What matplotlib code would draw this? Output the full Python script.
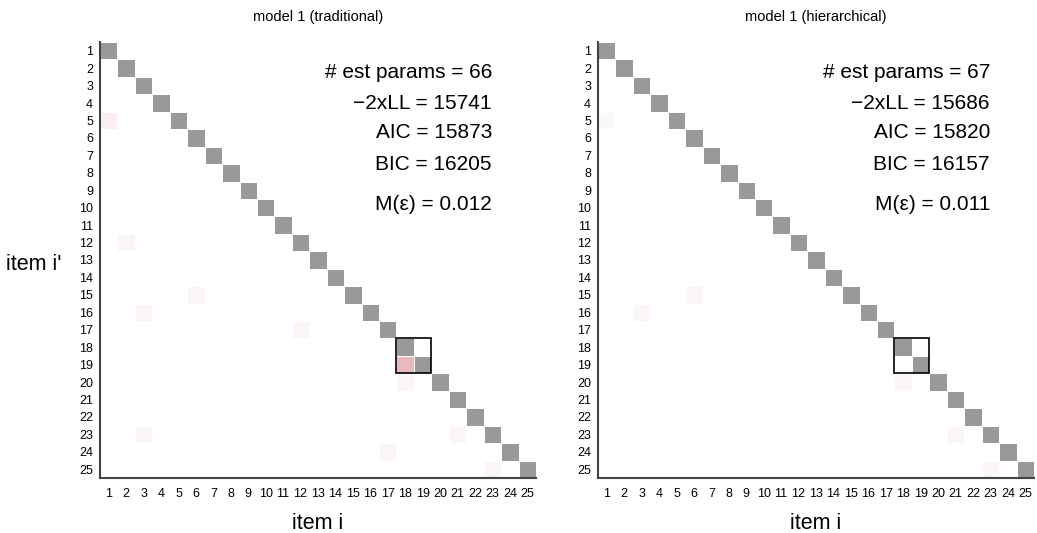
import numpy as np
import matplotlib
matplotlib.use("Agg")
import matplotlib.pyplot as plt
from matplotlib.colors import LinearSegmentedColormap
from matplotlib.patches import Rectangle

plt.rcParams['font.family'] = ['Liberation Sans', 'DejaVu Sans']

n_items = 25
items = list(range(1, n_items + 1))

titles = ["model 1 (traditional)", "model 1 (hierarchical)"]

# residual cells (item i', item i, residual) in the lower triangle
resid_trad = [(5, 1, 0.05), (12, 2, 0.035), (15, 6, 0.035), (16, 3, 0.035),
              (17, 12, 0.035), (19, 18, 0.22), (20, 18, 0.035), (23, 3, 0.035),
              (23, 21, 0.035), (24, 17, 0.035), (25, 23, 0.035)]
resid_hier = [(5, 1, 0.025), (15, 6, 0.035), (16, 3, 0.035), (20, 18, 0.03),
              (23, 21, 0.035), (25, 23, 0.035)]

# boxed item pair (first item, last item)
box_items = [(18, 19), (18, 19)]

# fit statistics
n_params = [66, 67]
m2ll = [15741, 15686]
aic = [15873, 15820]
bic = [16205, 16157]
mean_eps = [0.012, 0.011]

cmap_res = LinearSegmentedColormap.from_list("res", ["#ffffff", "#c0404e"])
cmap_diag = LinearSegmentedColormap.from_list("diag", ["#999999", "#999999"])

fig = plt.figure(figsize=(10.37, 5.33), dpi=100)
positions = [[100 / 1037, 55 / 533, 436 / 1037, 436 / 533],
             [598 / 1037, 55 / 533, 436 / 1037, 436 / 533]]

for k, resid in enumerate([resid_trad, resid_hier]):
    ax = fig.add_axes(positions[k])
    edges = np.arange(0.5, n_items + 1.5, 1.0)

    # residual layer
    R = np.full((n_items, n_items), np.nan)
    for r, c, v in resid:
        R[r - 1, c - 1] = v
    ax.pcolormesh(edges, edges, np.ma.masked_invalid(R), cmap=cmap_res,
                  vmin=0, vmax=0.6, edgecolors='white', linewidth=0.6)

    # diagonal
    D = np.full((n_items, n_items), np.nan)
    for i in items:
        D[i - 1, i - 1] = 1.0
    ax.pcolormesh(edges, edges, np.ma.masked_invalid(D), cmap=cmap_diag,
                  vmin=0, vmax=1, edgecolors='white', linewidth=0.6)

    a, b = box_items[k]
    ax.add_patch(Rectangle((a - 0.5, a - 0.5), b - a + 1, b - a + 1,
                           fill=False, edgecolor='black', linewidth=1.2, zorder=5))

    ax.set_xlim(0.5, n_items + 0.5)
    ax.set_ylim(n_items + 0.5, 0.5)
    ax.set_xticks(items)
    ax.set_yticks(items)
    ax.set_xticklabels([str(i) for i in items])
    ax.set_yticklabels([str(i) for i in items])
    ax.tick_params(axis='x', length=0, labelsize=9, pad=7)
    ax.tick_params(axis='y', length=0, labelsize=9, pad=5)
    for s in ['top', 'right']:
        ax.spines[s].set_visible(False)
    for s in ['left', 'bottom']:
        ax.spines[s].set_color('#444444')
        ax.spines[s].set_linewidth(1.5)

    ax.set_title(titles[k], fontsize=10.5, pad=15)
    ax.set_xlabel("item i", fontsize=15.5, labelpad=9.5)

    lines = [(0.929, f"# est params = {n_params[k]}"),
             (0.860, f"\u22122xLL = {m2ll[k]}"),
             (0.792, f"AIC = {aic[k]}"),
             (0.720, f"BIC = {bic[k]}"),
             (0.628, f"M(\u03b5) = {mean_eps[k]:.3f}")]
    for y, txt in lines:
        ax.text(0.899, y, txt, transform=ax.transAxes, ha='right',
                va='center', fontsize=15)

fig.text(62 / 1037, 1 - 265 / 533, "item i'", fontsize=15.5, ha='right', va='center')

fig.savefig("out.png", dpi=100)
